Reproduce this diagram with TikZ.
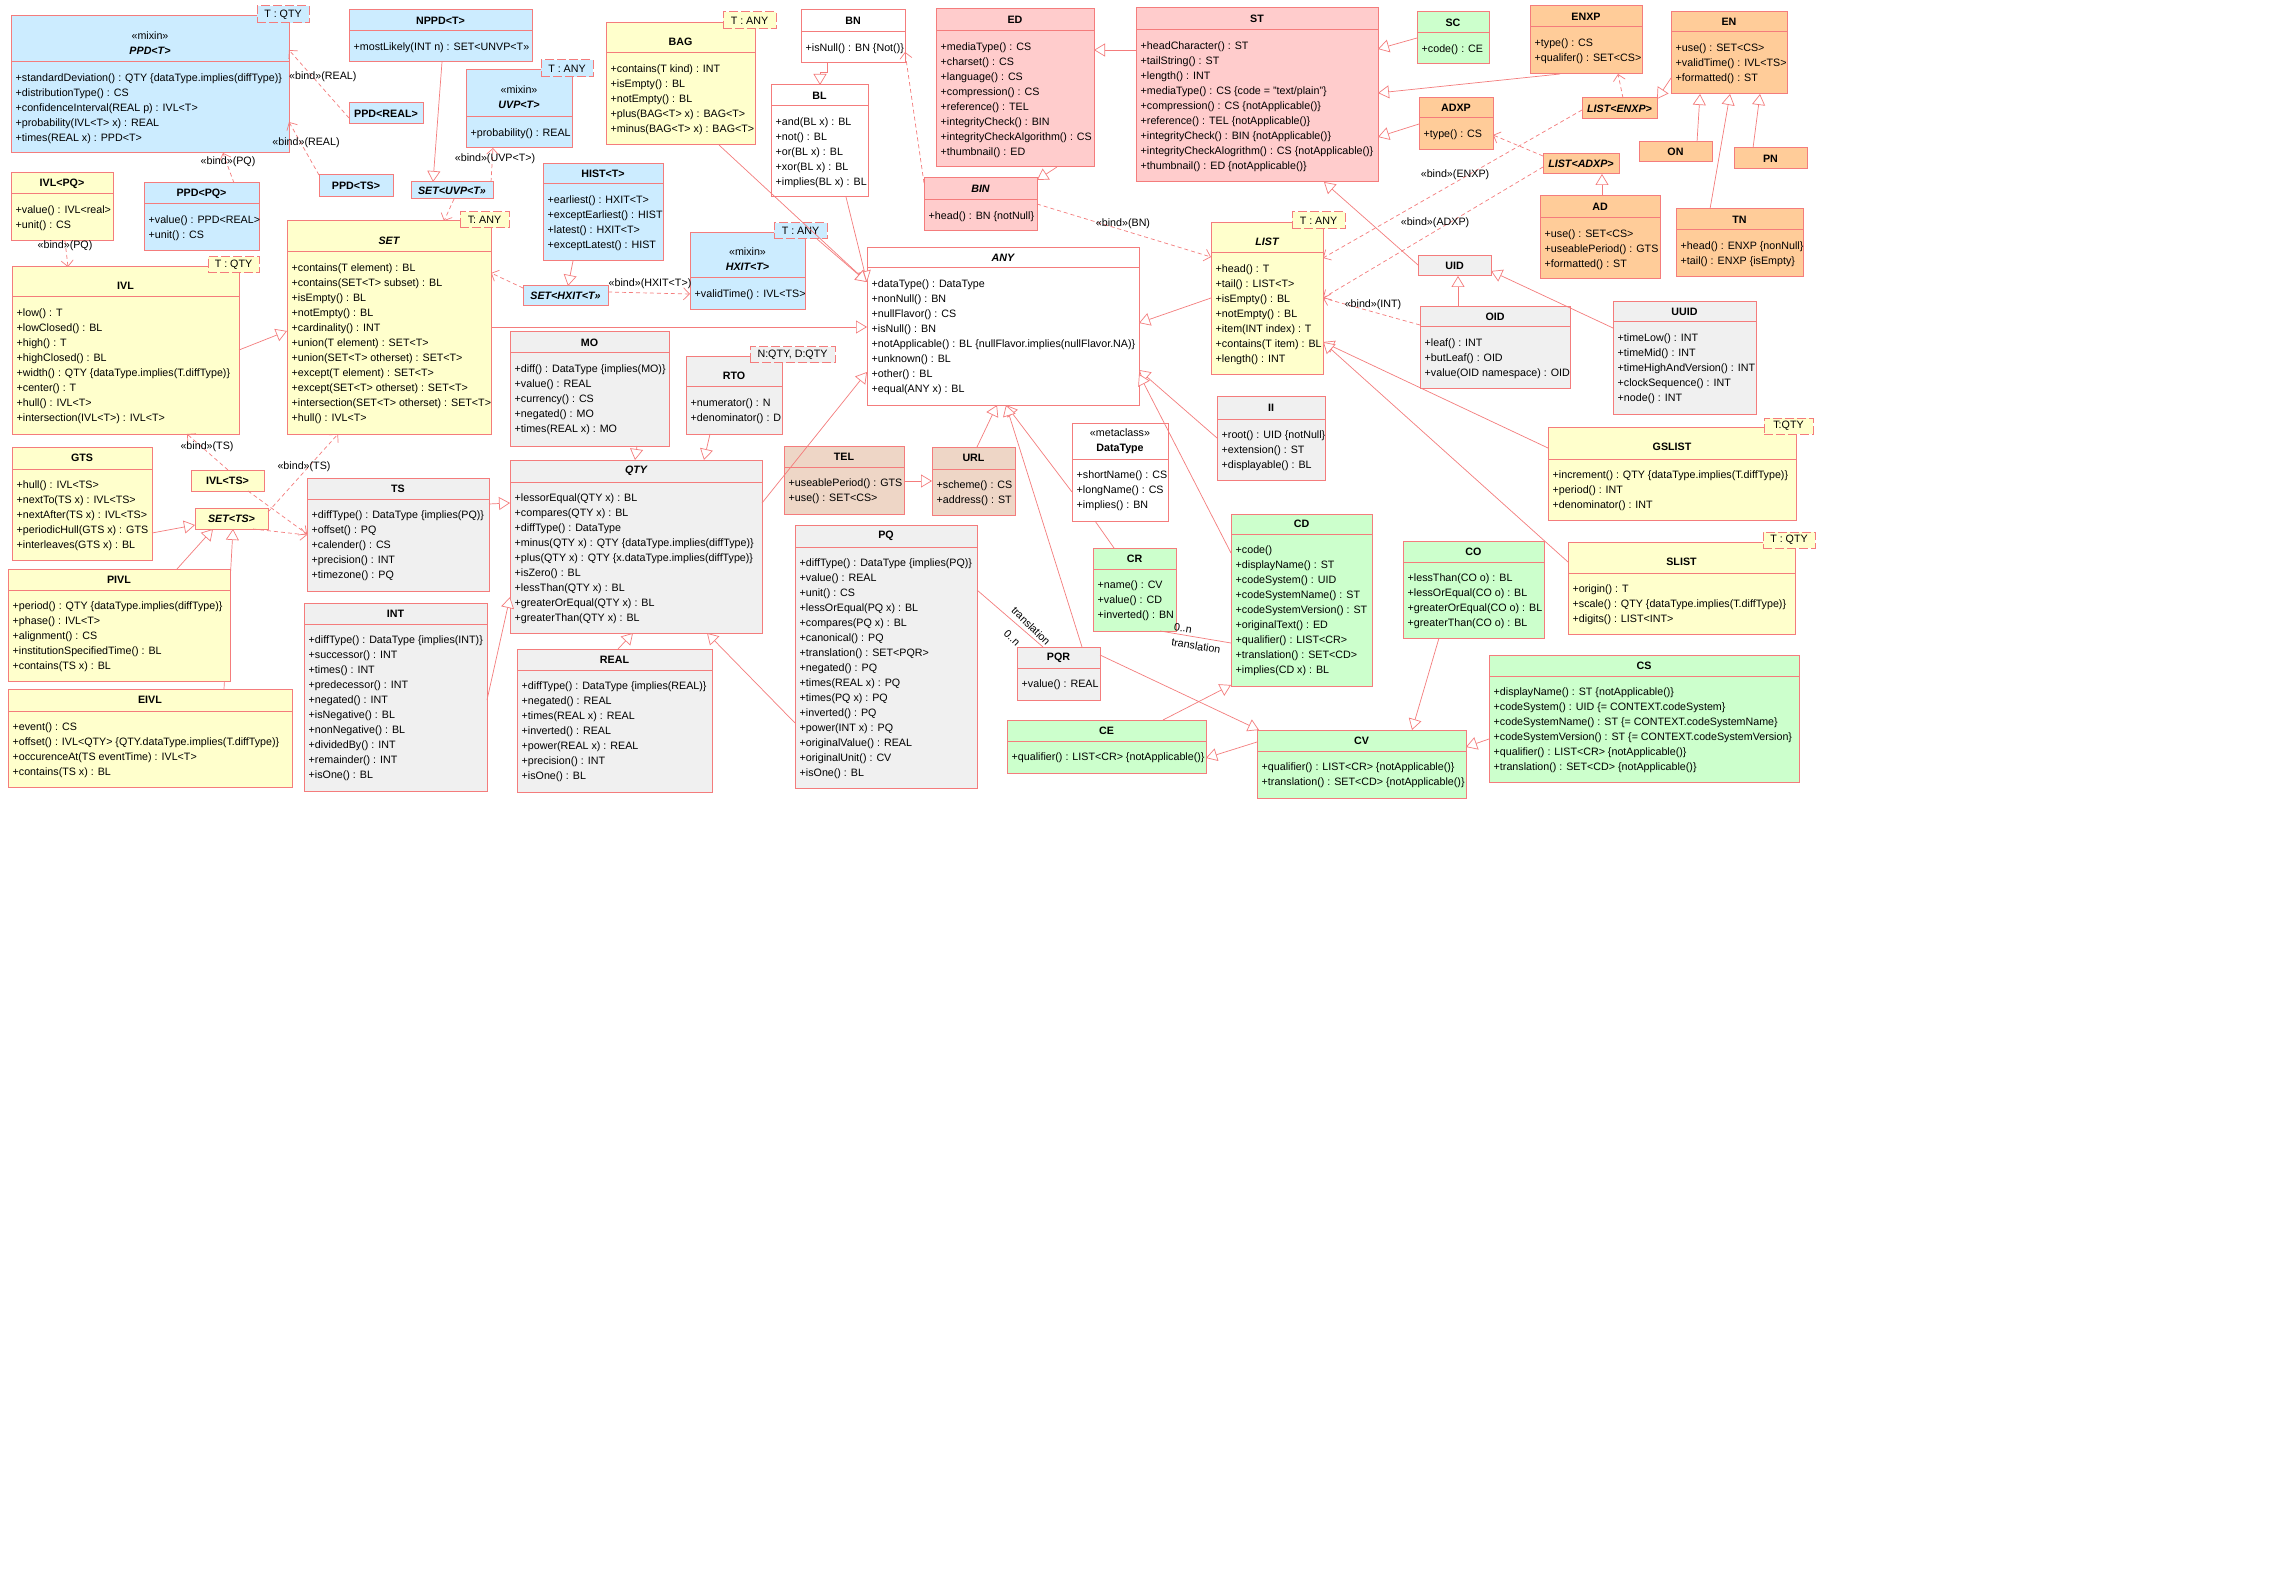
\documentclass[tikz,border=0pt]{standalone}
\usepackage{fontspec}
\setmainfont{Liberation Sans}
\usetikzlibrary{arrows.meta}
\definecolor{lc}{RGB}{244,124,124}
\definecolor{cblue}{RGB}{204,236,255}
\definecolor{cyel}{RGB}{255,255,204}
\definecolor{cgrey}{RGB}{240,240,240}
\definecolor{cpink}{RGB}{255,204,204}
\definecolor{cgreen}{RGB}{204,255,204}
\definecolor{corange}{RGB}{255,204,153}
\definecolor{ctel}{RGB}{238,214,198}
\newcommand\fa{\fontsize{10.7}{15}\selectfont}
\tikzset{
  box/.style={draw=lc, line width=1pt, inner sep=0pt, outer sep=0pt, anchor=north west},
  sepline/.style={draw=lc, line width=1pt},
  ttl/.style={font=\fa\bfseries, align=center, inner sep=0pt},
  attr/.style={font=\fa, align=left, inner sep=0pt, anchor=north west},
  tmpl/.style={draw=lc, line width=1pt, dash pattern=on 9pt off 3pt, inner sep=0pt, outer sep=0pt, anchor=north west, font=\fa},
  lbl/.style={font=\fa, inner sep=0pt},
  gen/.style={draw=lc, line width=0.7pt, -{Triangle[open, length=11pt, width=13pt, fill=white]}},
  dep/.style={draw=lc, line width=0.7pt, dash pattern=on 4pt off 3pt, -{Straight Barb[length=6pt, width=12pt]}},
  assoc/.style={draw=lc, line width=0.7pt},
}
\newcommand\umlcmain[9]{%
  \node[box, fill=#2, minimum width={#5-#3}, minimum height={#6-#4}] (#1) at (#3,#4) {};
  \draw[sepline] (#3,#7) -- (#5,#7);
  \node[ttl] (#1-t) at ({(#3+#5)/2},{(#4+#7)/2+\toff}) {#8};
  \node[attr] (#1-a) at ({#3+4.5},{#7+5}) {\rule{0pt}{14pt}#9};
}
\newcommand\umlc{\def\toff{0}\umlcmain}
\newcommand\umlcT{\def\toff{4}\umlcmain}
\newcommand\tmplbox[7]{%
  \node[tmpl, fill=#2, minimum width={#5-#3}, minimum height={#6-#4}] (#1) at (#3,#4) {#7};
}
\begin{document}
\begin{tikzpicture}[x=1pt,y=-1pt]
\useasboundingbox (0,0) rectangle (2270,1586);
\fill[white] (0,0) rectangle (2270,1586);

% ---------- classes ----------
\umlcT{PPDT}{cblue}{11}{16}{289}{153}{62}{{\mdseries «mixin»}\\{\itshape PPD<T>}}{+standardDeviation() : QTY \{dataType.implies(diffType)\}\\+distributionType() : CS\\+confidenceInterval(REAL p) : IVL<T>\\+probability(IVL<T> x) : REAL\\+times(REAL x) : PPD<T>}
\umlc{NPPD}{cblue}{349}{10}{532}{62}{31}{NPPD<T>}{+mostLikely(INT n) : SET<UNVP<T>>}
\umlc{PPDREAL}{cblue}{349}{103}{423}{124}{124}{PPD<REAL>}{}
\umlc{PPDTS}{cblue}{319}{175}{393}{197}{197}{PPD<TS>}{}
\umlcT{UVP}{cblue}{466}{70}{572}{148}{117}{{\mdseries «mixin»}\\{\itshape UVP<T>}}{+probability() : REAL}
\umlc{SETUVP}{cblue}{411}{182}{493}{199}{199}{\itshape SET<UVP<T>>}{}
\umlc{IVLPQ}{cyel}{11}{173}{113}{241}{194}{IVL<PQ>}{+value() : IVL<real>\\+unit() : CS}
\umlc{PPDPQ}{cblue}{144}{183}{259}{251}{204}{PPD<PQ>}{+value() : PPD<REAL>\\+unit() : CS}
\umlcT{IVL}{cyel}{12}{267}{239}{434}{297}{IVL}{+low() : T\\+lowClosed() : BL\\+high() : T\\+highClosed() : BL\\+width() : QTY \{dataType.implies(T.diffType)\}\\+center() : T\\+hull() : IVL<T>\\+intersection(IVL<T>) : IVL<T>}
\umlcT{SET}{cyel}{287}{221}{491}{434}{252}{\itshape SET}{+contains(T element) : BL\\+contains(SET<T> subset) : BL\\+isEmpty() : BL\\+notEmpty() : BL\\+cardinality() : INT\\+union(T element) : SET<T>\\+union(SET<T> otherset) : SET<T>\\+except(T element) : SET<T>\\+except(SET<T> otherset) : SET<T>\\+intersection(SET<T> otherset) : SET<T>\\+hull() : IVL<T>}
\umlcT{BAG}{cyel}{606}{23}{755}{145}{53}{BAG}{+contains(T kind) : INT\\+isEmpty() : BL\\+notEmpty() : BL\\+plus(BAG<T> x) : BAG<T>\\+minus(BAG<T> x) : BAG<T>}
\umlc{BN}{white}{801}{10}{905}{63}{32}{BN}{+isNull() : BN \{Not()\}}
\umlc{BL}{white}{771}{85}{868}{197}{106}{BL}{+and(BL x) : BL\\+not() : BL\\+or(BL x) : BL\\+xor(BL x) : BL\\+implies(BL x) : BL}
\umlc{HIST}{cblue}{543}{164}{663}{261}{184}{HIST<T>}{+earliest() : HXIT<T>\\+exceptEarliest() : HIST\\+latest() : HXIT<T>\\+exceptLatest() : HIST}
\umlc{SETHXIT}{cblue}{523}{286}{608}{306}{306}{\itshape SET<HXIT<T>>}{}
\umlcT{HXIT}{cblue}{690}{233}{805}{310}{278}{{\mdseries «mixin»}\\{\itshape HXIT<T>}}{+validTime() : IVL<TS>}
\umlc{MO}{cgrey}{510}{332}{669}{446}{353}{MO}{+diff() : DataType \{implies(MO)\}\\+value() : REAL\\+currency() : CS\\+negated() : MO\\+times(REAL x) : MO}
\umlcT{RTO}{cgrey}{686}{357}{782}{434}{387}{RTO}{+numerator() : N\\+denominator() : D}
\umlc{ANY}{white}{867}{248}{1139}{405}{268}{\itshape ANY}{+dataType() : DataType\\+nonNull() : BN\\+nullFlavor() : CS\\+isNull() : BN\\+notApplicable() : BL \{nullFlavor.implies(nullFlavor.NA)\}\\+unknown() : BL\\+other() : BL\\+equal(ANY x) : BL}
\umlc{ED}{cpink}{936}{9}{1094}{167}{31}{ED}{+mediaType() : CS\\+charset() : CS\\+language() : CS\\+compression() : CS\\+reference() : TEL\\+integrityCheck() : BIN\\+integrityCheckAlgorithm() : CS\\+thumbnail() : ED}
\umlc{ST}{cpink}{1136}{8}{1378}{182}{30}{ST}{+headCharacter() : ST\\+tailString() : ST\\+length() : INT\\+mediaType() : CS \{code = "text/plain"\}\\+compression() : CS \{notApplicable()\}\\+reference() : TEL \{notApplicable()\}\\+integrityCheck() : BIN \{notApplicable()\}\\+integrityCheckAlogrithm() : CS \{notApplicable()\}\\+thumbnail() : ED \{notApplicable()\}}
\umlc{BIN}{cpink}{924}{178}{1037}{231}{200}{\itshape BIN}{+head() : BN \{notNull\}}
\umlcT{LIST}{cyel}{1211}{223}{1323}{375}{253}{\itshape LIST}{+head() : T\\+tail() : LIST<T>\\+isEmpty() : BL\\+notEmpty() : BL\\+item(INT index) : T\\+contains(T item) : BL\\+length() : INT}
\umlc{SC}{cgreen}{1417}{12}{1489}{64}{33}{SC}{+code() : CE}
\umlc{ENXP}{corange}{1530}{6}{1642}{74}{27}{ENXP}{+type() : CS\\+qualifer() : SET<CS>}
\umlc{EN}{corange}{1671}{12}{1787}{94}{32}{EN}{+use() : SET<CS>\\+validTime() : IVL<TS>\\+formatted() : ST}
\umlc{ADXP}{corange}{1419}{98}{1493}{150}{118}{ADXP}{+type() : CS}
\umlc{LISTENXP}{corange}{1582}{98}{1657}{119}{119}{\itshape LIST<ENXP>}{}
\umlc{LISTADXP}{corange}{1543}{154}{1619}{174}{174}{\itshape LIST<ADXP>}{}
\umlc{ON}{corange}{1639}{142}{1712}{162}{162}{ON}{}
\umlc{PN}{corange}{1734}{148}{1807}{169}{169}{PN}{}
\umlc{AD}{corange}{1540}{196}{1660}{279}{218}{AD}{+use() : SET<CS>\\+useablePeriod() : GTS\\+formatted() : ST}
\umlc{TN}{corange}{1676}{209}{1803}{277}{230}{TN}{+head() : ENXP \{nonNull\}\\+tail() : ENXP \{isEmpty\}}
\umlc{UID}{cgrey}{1418}{256}{1491}{276}{276}{UID}{}
\umlc{OID}{cgrey}{1420}{307}{1570}{389}{327}{OID}{+leaf() : INT\\+butLeaf() : OID\\+value(OID namespace) : OID}
\umlc{UUID}{cgrey}{1613}{302}{1756}{414}{322}{UUID}{+timeLow() : INT\\+timeMid() : INT\\+timeHighAndVersion() : INT\\+clockSequence() : INT\\+node() : INT}
\umlc{GTS}{cyel}{12}{447}{152}{560}{469}{GTS}{+hull() : IVL<TS>\\+nextTo(TS x) : IVL<TS>\\+nextAfter(TS x) : IVL<TS>\\+periodicHull(GTS x) : GTS\\+interleaves(GTS x) : BL}
\umlc{IVLTS}{cyel}{191}{470}{264}{491}{491}{IVL<TS>}{}
\umlc{SETTS}{cyel}{195}{508}{268}{529}{529}{\itshape SET<TS>}{}
\umlc{EIVL}{cyel}{8}{689}{292}{787}{711}{EIVL}{+event() : CS\\+offset() : IVL<QTY> \{QTY.dataType.implies(T.diffType)\}\\+occurenceAt(TS eventTime) : IVL<T>\\+contains(TS x) : BL}
\draw[gen] ([shift={(216,0)}]EIVL.north west) -- ([shift={(38,21)}]SETTS.north west);
\umlc{PIVL}{cyel}{8}{569}{230}{681}{590}{PIVL}{+period() : QTY \{dataType.implies(diffType)\}\\+phase() : IVL<T>\\+alignment() : CS\\+institutionSpecifiedTime() : BL\\+contains(TS x) : BL}
\umlc{TS}{cgrey}{307}{478}{489}{591}{499}{TS}{+diffType() : DataType \{implies(PQ)\}\\+offset() : PQ\\+calender() : CS\\+precision() : INT\\+timezone() : PQ}
\umlc{INT}{cgrey}{304}{603}{487}{791}{624}{INT}{+diffType() : DataType \{implies(INT)\}\\+successor() : INT\\+times() : INT\\+predecessor() : INT\\+negated() : INT\\+isNegative() : BL\\+nonNegative() : BL\\+dividedBy() : INT\\+remainder() : INT\\+isOne() : BL}
\umlc{QTY}{cgrey}{510}{460}{762}{633}{482}{\itshape QTY}{+lessorEqual(QTY x) : BL\\+compares(QTY x) : BL\\+diffType() : DataType\\+minus(QTY x) : QTY \{dataType.implies(diffType)\}\\+plus(QTY x) : QTY \{x.dataType.implies(diffType)\}\\+isZero() : BL\\+lessThan(QTY x) : BL\\+greaterOrEqual(QTY x) : BL\\+greaterThan(QTY x) : BL}
\umlc{REAL}{cgrey}{517}{649}{712}{792}{670}{REAL}{+diffType() : DataType \{implies(REAL)\}\\+negated() : REAL\\+times(REAL x) : REAL\\+inverted() : REAL\\+power(REAL x) : REAL\\+precision() : INT\\+isOne() : BL}
\umlc{TEL}{ctel}{784}{446}{904}{514}{467}{TEL}{+useablePeriod() : GTS\\+use() : SET<CS>}
\umlc{URL}{ctel}{932}{447}{1015}{515}{469}{URL}{+scheme() : CS\\+address() : ST}
\umlc{PQ}{cgrey}{795}{525}{977}{788}{547}{PQ}{+diffType() : DataType \{implies(PQ)\}\\+value() : REAL\\+unit() : CS\\+lessOrEqual(PQ x) : BL\\+compares(PQ x) : BL\\+canonical() : PQ\\+translation() : SET<PQR>\\+negated() : PQ\\+times(REAL x) : PQ\\+times(PQ x) : PQ\\+inverted() : PQ\\+power(INT x) : PQ\\+originalValue() : REAL\\+originalUnit() : CV\\+isOne() : BL}
\umlc{DT}{white}{1072}{423}{1168}{521}{459}{{\mdseries «metaclass»}\\DataType}{+shortName() : CS\\+longName() : CS\\+implies() : BN}
\umlc{II}{cgrey}{1217}{397}{1325}{480}{419}{II}{+root() : UID \{notNull\}\\+extension() : ST\\+displayable() : BL}
\umlc{CD}{cgreen}{1231}{514}{1372}{686}{534}{CD}{+code()\\+displayName() : ST\\+codeSystem() : UID\\+codeSystemName() : ST\\+codeSystemVersion() : ST\\+originalText() : ED\\+qualifier() : LIST<CR>\\+translation() : SET<CD>\\+implies(CD x) : BL}
\umlc{CR}{cgreen}{1093}{548}{1176}{631}{569}{CR}{+name() : CV\\+value() : CD\\+inverted() : BN}
\umlc{PQR}{cgrey}{1017}{647}{1100}{700}{668}{PQR}{+value() : REAL}
\umlc{CE}{cgreen}{1007}{720}{1206}{773}{741}{CE}{+qualifier() : LIST<CR> \{notApplicable()\}}
\umlc{CV}{cgreen}{1257}{730}{1466}{798}{751}{CV}{+qualifier() : LIST<CR> \{notApplicable()\}\\+translation() : SET<CD> \{notApplicable()\}}
\umlc{CO}{cgreen}{1403}{541}{1544}{638}{562}{CO}{+lessThan(CO o) : BL\\+lessOrEqual(CO o) : BL\\+greaterOrEqual(CO o) : BL\\+greaterThan(CO o) : BL}
\umlcT{GSLIST}{cyel}{1548}{427}{1796}{520}{459}{GSLIST}{+increment() : QTY \{dataType.implies(T.diffType)\}\\+period() : INT\\+denominator() : INT}
\umlcT{SLIST}{cyel}{1568}{542}{1795}{634}{573}{SLIST}{+origin() : T\\+scale() : QTY \{dataType.implies(T.diffType)\}\\+digits() : LIST<INT>}
\umlc{CS}{cgreen}{1489}{655}{1799}{782}{676}{CS}{+displayName() : ST \{notApplicable()\}\\+codeSystem() : UID \{= CONTEXT.codeSystem\}\\+codeSystemName() : ST \{= CONTEXT.codeSystemName\}\\+codeSystemVersion() : ST \{= CONTEXT.codeSystemVersion\}\\+qualifier() : LIST<CR> \{notApplicable()\}\\+translation() : SET<CD> \{notApplicable()\}}

% ---------- template parameters ----------
\tmplbox{PPDTt}{cblue}{257}{6}{309}{23}{T : QTY}
\tmplbox{IVLt}{cyel}{208}{257}{259}{273}{T : QTY}
\tmplbox{SETt}{cyel}{460}{212}{509}{228}{T: ANY}
\tmplbox{UVPt}{cblue}{541}{60}{593}{77}{T : ANY}
\tmplbox{BAGt}{cyel}{723}{12}{776}{29}{T : ANY}
\tmplbox{HXITt}{cblue}{774}{223}{827}{239}{T : ANY}
\tmplbox{RTOt}{cgrey}{750}{347}{835}{363}{N:QTY, D:QTY}
\tmplbox{LISTt}{cyel}{1292}{212}{1345}{229}{T : ANY}
\tmplbox{GSLISTt}{cyel}{1764}{418}{1813}{434}{T:QTY}
\tmplbox{SLISTt}{cyel}{1763}{532}{1815}{548}{T : QTY}

% ---------- generalizations ----------
\draw[gen] ([shift={(227,83)}]IVL.north west) -- ([shift={(0,110)}]SET.north west);
\draw[gen] ([shift={(93,52)}]NPPD.north west) -- ([shift={(22,0)}]SETUVP.north west);
\draw[gen] ([shift={(30,97)}]HIST.north west) -- ([shift={(45,0)}]SETHXIT.north west);
\draw[gen] ([shift={(26,53)}]BN.north west) -- ++(0,9) -| ([shift={(49,0)}]BL.north west);
\draw[gen] ([shift={(75,112)}]BL.north west) -- ([shift={(0,34)}]ANY.north west);
\draw[gen] ([shift={(113,122)}]BAG.north west) -- ([shift={(0,34)}]ANY.north west);
\draw[gen] ([shift={(43,16)}]HXITt.north west) -- ([shift={(0,34)}]ANY.north west);
\draw[gen] ([shift={(204,106)}]SET.north west) -- ([shift={(0,79)}]ANY.north west);
\draw[gen] ([shift={(252,43)}]QTY.north west) -- ([shift={(0,124)}]ANY.north west);
\draw[gen] ([shift={(0,75)}]LIST.north west) -- ([shift={(272,75)}]ANY.north west);
\draw[gen] ([shift={(0,42)}]ST.north west) -- ([shift={(158,41)}]ED.north west);
\draw[gen] ([shift={(121,158)}]ED.north west) -- ([shift={(113,2)}]BIN.north west);
\draw[gen] ([shift={(0,9)}]UID.north west) -- ([shift={(188,174)}]ST.north west);
\draw[gen] ([shift={(0,26)}]SC.north west) -- ([shift={(242,41)}]ST.north west);
\draw[gen] ([shift={(30,68)}]ENXP.north west) -- ([shift={(242,85)}]ST.north west);
\draw[gen] ([shift={(0,26)}]ADXP.north west) -- ([shift={(242,129)}]ST.north west);
\draw[gen] ([shift={(62,0)}]AD.north west) -- ([shift={(59,20)}]LISTADXP.north west);
\draw[gen] ([shift={(0,66)}]EN.north west) -- ([shift={(75,1)}]LISTENXP.north west);
\draw[gen] ([shift={(58,0)}]ON.north west) -- ([shift={(29,82)}]EN.north west);
\draw[gen] ([shift={(34,0)}]TN.north west) -- ([shift={(59,82)}]EN.north west);
\draw[gen] ([shift={(19,0)}]PN.north west) -- ([shift={(89,82)}]EN.north west);
\draw[gen] ([shift={(38,0)}]OID.north west) -- ([shift={(40,20)}]UID.north west);
\draw[gen] ([shift={(0,26)}]UUID.north west) -- ([shift={(73,15)}]UID.north west);
\draw[gen] ([shift={(0,21)}]GSLIST.north west) -- ([shift={(112,119)}]LIST.north west);
\draw[gen] ([shift={(0,20)}]SLIST.north west) -- ([shift={(112,119)}]LIST.north west);
\draw[gen] ([shift={(0,41)}]II.north west) -- ([shift={(272,122)}]ANY.north west);
\draw[gen] ([shift={(0,39)}]CD.north west) -- ([shift={(272,126)}]ANY.north west);
\draw[gen] ([shift={(0,69)}]DT.north west) -- ([shift={(139,157)}]ANY.north west);
\draw[gen] ([shift={(45,0)}]URL.north west) -- ([shift={(130,157)}]ANY.north west);
\draw[gen] ([shift={(65,0)}]PQR.north west) -- ([shift={(139,157)}]ANY.north west);
\draw[gen] ([shift={(120,35)}]TEL.north west) -- ([shift={(0,34)}]URL.north west);
\draw[gen] ([shift={(127,114)}]MO.north west) -- ([shift={(125,0)}]QTY.north west);
\draw[gen] ([shift={(24,77)}]RTO.north west) -- ([shift={(194,0)}]QTY.north west);
\draw[gen] ([shift={(101,0)}]REAL.north west) -- ([shift={(123,173)}]QTY.north west);
\draw[gen] ([shift={(0,198)}]PQ.north west) -- ([shift={(197,173)}]QTY.north west);
\draw[gen] ([shift={(183,97)}]INT.north west) -- ([shift={(0,137)}]QTY.north west);
\draw[gen] ([shift={(182,26)}]TS.north west) -- ([shift={(0,43)}]QTY.north west);
\draw[gen] ([shift={(140,86)}]GTS.north west) -- ([shift={(0,17)}]SETTS.north west);
\draw[gen] ([shift={(169,0)}]PIVL.north west) -- ([shift={(18,21)}]SETTS.north west);
\draw[gen] ([shift={(83,8)}]PQR.north west) -- ([shift={(2,0)}]CV.north west);
\draw[gen] ([shift={(156,0)}]CE.north west) -- ([shift={(0,171)}]CD.north west);
\draw[gen] ([shift={(0,12)}]CV.north west) -- ([shift={(199,38)}]CE.north west);
\draw[gen] ([shift={(36,97)}]CO.north west) -- ([shift={(155,0)}]CV.north west);
\draw[gen] ([shift={(0,84)}]CS.north west) -- ([shift={(209,17)}]CV.north west);

% ---------- bindings ----------
\draw[dep] ([shift={(0,15)}]PPDREAL.north west) -- ([shift={(278,34)}]PPDT.north west);
\draw[dep] ([shift={(0,0)}]PPDTS.north west) -- ([shift={(278,106)}]PPDT.north west);
\draw[dep] ([shift={(90,0)}]PPDPQ.north west) -- ([shift={(212,137)}]PPDT.north west);
\draw[dep] ([shift={(54,68)}]IVLPQ.north west) -- ([shift={(56,0)}]IVL.north west);
\draw[dep] ([shift={(43,17)}]SETUVP.north west) -- ([shift={(157,0)}]SET.north west);
\draw[dep] ([shift={(80,0)}]SETUVP.north west) -- ([shift={(27,78)}]UVP.north west);
\draw[dep] ([shift={(0,2)}]SETHXIT.north west) -- ([shift={(204,52)}]SET.north west);
\draw[dep] ([shift={(85,6)}]SETHXIT.north west) -- ([shift={(0,61)}]HXIT.north west);
\draw[dep] ([shift={(0,5)}]BIN.north west) -- ([shift={(104,42)}]BN.north west);
\draw[dep] ([shift={(113,26)}]BIN.north west) -- ([shift={(0,34)}]LIST.north west);
\draw[dep] ([shift={(41,0)}]LISTENXP.north west) -- ([shift={(88,68)}]ENXP.north west);
\draw[dep] ([shift={(0,12)}]LISTENXP.north west) -- ([shift={(112,35)}]LIST.north west);
\draw[dep] ([shift={(0,2)}]LISTADXP.north west) -- ([shift={(74,37)}]ADXP.north west);
\draw[dep] ([shift={(0,13)}]LISTADXP.north west) -- ([shift={(112,75)}]LIST.north west);
\draw[dep] ([shift={(0,18)}]OID.north west) -- ([shift={(112,75)}]LIST.north west);
\draw[dep] ([shift={(37,0)}]IVLTS.north west) -- ([shift={(175,167)}]IVL.north west);
\draw[dep] ([shift={(57,21)}]IVLTS.north west) -- ([shift={(0,56)}]TS.north west);
\draw[dep] ([shift={(73,4)}]SETTS.north west) -- ([shift={(51,213)}]SET.north west);
\draw[dep] ([shift={(58,21)}]SETTS.north west) -- ([shift={(0,57)}]TS.north west);

% ---------- associations ----------
\draw[assoc] ([shift={(182,65)}]PQ.north west) -- ([shift={(26,0)}]PQR.north west);
\draw[assoc] ([shift={(67,83)}]CR.north west) -- ([shift={(0,129)}]CD.north west);
\draw[assoc] ([shift={(23,98)}]DT.north west) -- ([shift={(21,0)}]CR.north west);

% ---------- labels ----------
\node[lbl, anchor=west] (lb1) at (289,77) {«bind»(REAL)};
\node[lbl] (lb2) at (306,143) {«bind»(REAL)};
\node[lbl] (lb3) at (228,162) {«bind»(PQ)};
\node[lbl] (lb4) at (65,246) {«bind»(PQ)};
\node[lbl] (lb5) at (495,159) {«bind»(UVP<T>)};
\node[lbl] (lb6) at (650,284) {«bind»(HXIT<T>)};
\node[lbl] (lb7) at (1123,224) {«bind»(BN)};
\node[lbl] (lb8) at (1455,175) {«bind»(ENXP)};
\node[lbl] (lb9) at (1435,223) {«bind»(ADXP)};
\node[lbl] (lb10) at (1373,305) {«bind»(INT)};
\node[lbl] (lb11) at (207,447) {«bind»(TS)};
\node[lbl] (lb12) at (304,467) {«bind»(TS)};
\node[lbl, rotate=-45] (lb13) at (1031,626) {translation};
\node[lbl, rotate=-45] (lb14) at (1012,638) {0..n};
\node[lbl, rotate=-9] (lb15) at (1183,628) {0..n};
\node[lbl, rotate=-9] (lb16) at (1196,646) {translation};
\end{tikzpicture}
\end{document}
